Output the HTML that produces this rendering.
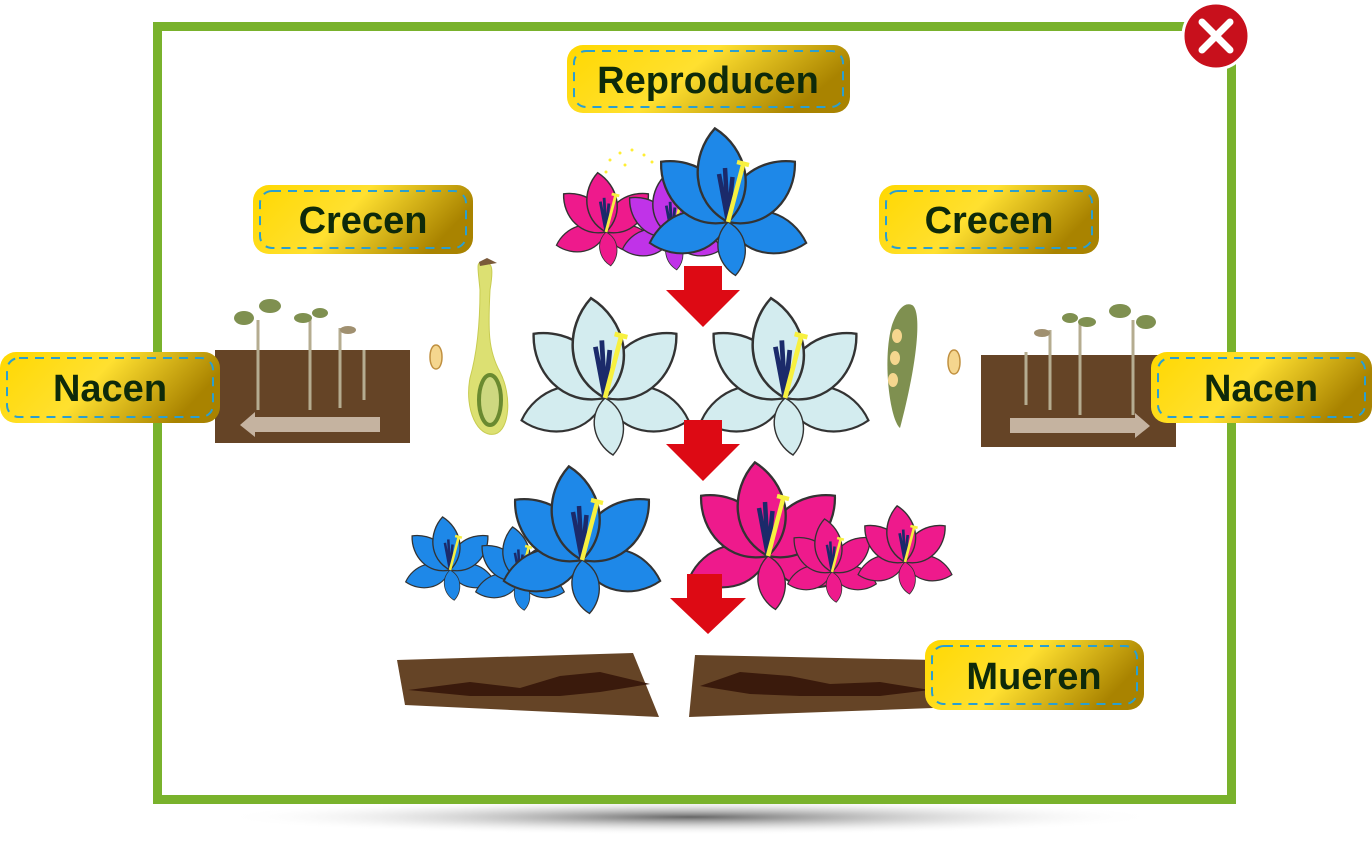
<!DOCTYPE html>
<html><head><meta charset="utf-8"><style>
html,body{margin:0;padding:0;background:#fff;width:1372px;height:844px;overflow:hidden}
svg{display:block}
.lbl{font-family:"Liberation Sans",sans-serif;font-weight:bold;fill:#0e2a0a}
</style></head><body>
<svg width="1372" height="844" viewBox="0 0 1372 844" xmlns="http://www.w3.org/2000/svg">
<defs>
<linearGradient id="gold" x1="0" y1="0" x2="1" y2="0.3">
<stop offset="0" stop-color="#ffd800"/><stop offset="0.5" stop-color="#ffe030"/><stop offset="1" stop-color="#a98300"/>
</linearGradient>
<radialGradient id="shadow" cx="0.5" cy="0.5" r="0.5">
<stop offset="0" stop-color="#555" stop-opacity="0.9"/><stop offset="1" stop-color="#fff" stop-opacity="0"/>
</radialGradient>
<path id="pt" d="M0,0 C-22,-16 -18,-45 0,-60 C18,-45 22,-16 0,0Z" stroke="#333" stroke-width="1.5"/>
<g id="lily">
<use href="#pt" transform="rotate(-105) scale(0.9)"/>
<use href="#pt" transform="rotate(105) scale(0.9)"/>
<use href="#pt" transform="rotate(-48)"/>
<use href="#pt" transform="rotate(48)"/>
<use href="#pt" transform="rotate(-8) scale(1.05)"/>
<use href="#pt" transform="rotate(172) scale(0.6)"/>
<path d="M0,0 L-6,-32 M0,0 L-2,-36 M0,0 L3,-30" stroke="#1b2a6a" stroke-width="3" fill="none"/>
<path d="M0,0 L10,-38" stroke="#f7f040" stroke-width="3" fill="none"/>
<path d="M6,-40 L14,-38" stroke="#f7f040" stroke-width="3"/>
</g>
<path id="seed" d="M0,-12 C8,-12 8,12 0,12 C-8,12 -8,-12 0,-12Z" fill="#f5d68e" stroke="#c09040" stroke-width="1.5"/>
</defs>

<ellipse cx="690" cy="817" rx="470" ry="18" fill="url(#shadow)"/>
<rect x="157.5" y="26.5" width="1074" height="773" fill="#fff" stroke="#79b22c" stroke-width="9"/>

<circle cx="1216" cy="36" r="33" fill="#c8101c" stroke="#fff" stroke-width="3"/>
<path d="M1202,22 L1230,50 M1230,22 L1202,50" stroke="#fff" stroke-width="7" stroke-linecap="round"/>

<g fill="#ffee33"><circle cx="610" cy="160" r="1.5"/><circle cx="620" cy="153" r="1.5"/><circle cx="632" cy="150" r="1.5"/><circle cx="644" cy="155" r="1.5"/><circle cx="652" cy="162" r="1.5"/><circle cx="606" cy="172" r="1.5"/><circle cx="625" cy="165" r="1.5"/></g>
<use href="#lily" fill="#ee1a8c" transform="translate(606,232) scale(0.95)"/>
<use href="#lily" fill="#c033e8" transform="translate(672,236) scale(0.95)"/>
<use href="#lily" fill="#1e88e8" transform="translate(728,222) scale(1.5)"/>

<use href="#lily" fill="#d3ecef" transform="translate(605,398) scale(1.6)"/>
<use href="#lily" fill="#d3ecef" transform="translate(785,398) scale(1.6)"/>

<use href="#lily" fill="#1e88e8" transform="translate(450,570) scale(0.85)"/>
<use href="#lily" fill="#1e88e8" transform="translate(520,580) scale(0.85)"/>
<use href="#lily" fill="#1e88e8" transform="translate(582,560) scale(1.5)"/>
<use href="#lily" fill="#ee1a8c" transform="translate(768,556) scale(1.5)"/>
<use href="#lily" fill="#ee1a8c" transform="translate(832,572) scale(0.85)"/>
<use href="#lily" fill="#ee1a8c" transform="translate(905,562) scale(0.9)"/>

<g fill="#dd0a14">
<path d="M684,266 H722 V290 H740 L703,327 L666,290 H684Z"/>
<path d="M684,420 H722 V444 H740 L703,481 L666,444 H684Z"/>
<path d="M687,574 H722 V598 H746 L708,634 L670,598 H687Z"/>
</g>

<rect x="215" y="350" width="195" height="93" fill="#654426"/>
<path d="M240,425 L255,412 V417 H380 V432 H255 V437Z" fill="#c5b3a0"/>
<g stroke="#b5ac90" stroke-width="3" fill="none"><path d="M258,320 V410"/><path d="M310,320 V410"/><path d="M340,328 V408"/><path d="M364,350 V400"/></g>
<g fill="#7f9050"><ellipse cx="244" cy="318" rx="10" ry="7"/><ellipse cx="270" cy="306" rx="11" ry="7"/><ellipse cx="303" cy="318" rx="9" ry="5"/><ellipse cx="320" cy="313" rx="8" ry="5"/><ellipse cx="348" cy="330" rx="8" ry="4" fill="#a09070"/></g>
<use href="#seed" transform="translate(436,357)"/>
<path d="M482,262 C492,262 494,266 490,290 C488,330 488,350 500,372 C512,395 510,430 495,434 C478,438 464,410 470,378 C478,350 480,320 480,290 C478,268 476,262 482,262Z" fill="#dce072" stroke="#c8cc50"/>
<path d="M479,262 L487,258 L497,263 L480,266Z" fill="#7a5a3a"/>
<ellipse cx="490" cy="400" rx="11" ry="25" fill="#cdd880" stroke="#6a8a30" stroke-width="4"/>

<rect x="981" y="355" width="195" height="92" fill="#654426"/>
<path d="M1150,426 L1135,413 V418 H1010 V433 H1135 V438Z" fill="#c5b3a0"/>
<g stroke="#b5ac90" stroke-width="3" fill="none"><path d="M1133,320 V415"/><path d="M1080,322 V415"/><path d="M1050,330 V410"/><path d="M1026,352 V405"/></g>
<g fill="#7f9050"><ellipse cx="1146" cy="322" rx="10" ry="7"/><ellipse cx="1120" cy="311" rx="11" ry="7"/><ellipse cx="1087" cy="322" rx="9" ry="5"/><ellipse cx="1070" cy="318" rx="8" ry="5"/><ellipse cx="1042" cy="333" rx="8" ry="4" fill="#a09070"/></g>
<use href="#seed" transform="translate(954,362)"/>
<path d="M912,305 C922,310 918,360 900,428 C890,420 882,360 892,325 C898,308 905,302 912,305Z" fill="#7f9050"/>
<g fill="#f5d68e"><ellipse cx="897" cy="336" rx="5" ry="7"/><ellipse cx="895" cy="358" rx="5" ry="7"/><ellipse cx="893" cy="380" rx="5" ry="7"/></g>

<path d="M397,660 L633,653 L659,717 L405,705Z" fill="#654426"/>
<path d="M695,655 L935,660 L933,708 L689,717Z" fill="#654426"/>
<g fill="#3a1a0c">
<path d="M408,690 L470,682 L520,688 L560,676 L600,672 L650,684 L600,692 L560,696 L470,696Z"/>
<path d="M700,686 L740,672 L790,676 L830,684 L880,682 L930,690 L880,696 L800,696 L750,694Z"/>
</g>

<g stroke="#2a9fd0" stroke-width="2" stroke-dasharray="9 7">
<rect x="567" y="45" width="283" height="68" rx="16" fill="url(#gold)" stroke="none"/>
<rect x="574" y="51" width="269" height="56" rx="12" fill="none"/>
<rect x="253" y="185" width="220" height="69" rx="16" fill="url(#gold)" stroke="none"/>
<rect x="260" y="191" width="206" height="57" rx="12" fill="none"/>
<rect x="879" y="185" width="220" height="69" rx="16" fill="url(#gold)" stroke="none"/>
<rect x="886" y="191" width="206" height="57" rx="12" fill="none"/>
<rect x="0" y="352" width="220" height="71" rx="16" fill="url(#gold)" stroke="none"/>
<rect x="7" y="358" width="206" height="59" rx="12" fill="none"/>
<rect x="1151" y="352" width="221" height="71" rx="16" fill="url(#gold)" stroke="none"/>
<rect x="1158" y="358" width="207" height="59" rx="12" fill="none"/>
<rect x="925" y="640" width="219" height="70" rx="16" fill="url(#gold)" stroke="none"/>
<rect x="932" y="646" width="205" height="58" rx="12" fill="none"/>
</g>
<g class="lbl" font-size="38" text-anchor="middle">
<text x="708" y="93">Reproducen</text>
<text x="363" y="233">Crecen</text>
<text x="989" y="233">Crecen</text>
<text x="110" y="401">Nacen</text>
<text x="1261" y="401">Nacen</text>
<text x="1034" y="689">Mueren</text>
</g>
</svg>
</body></html>
